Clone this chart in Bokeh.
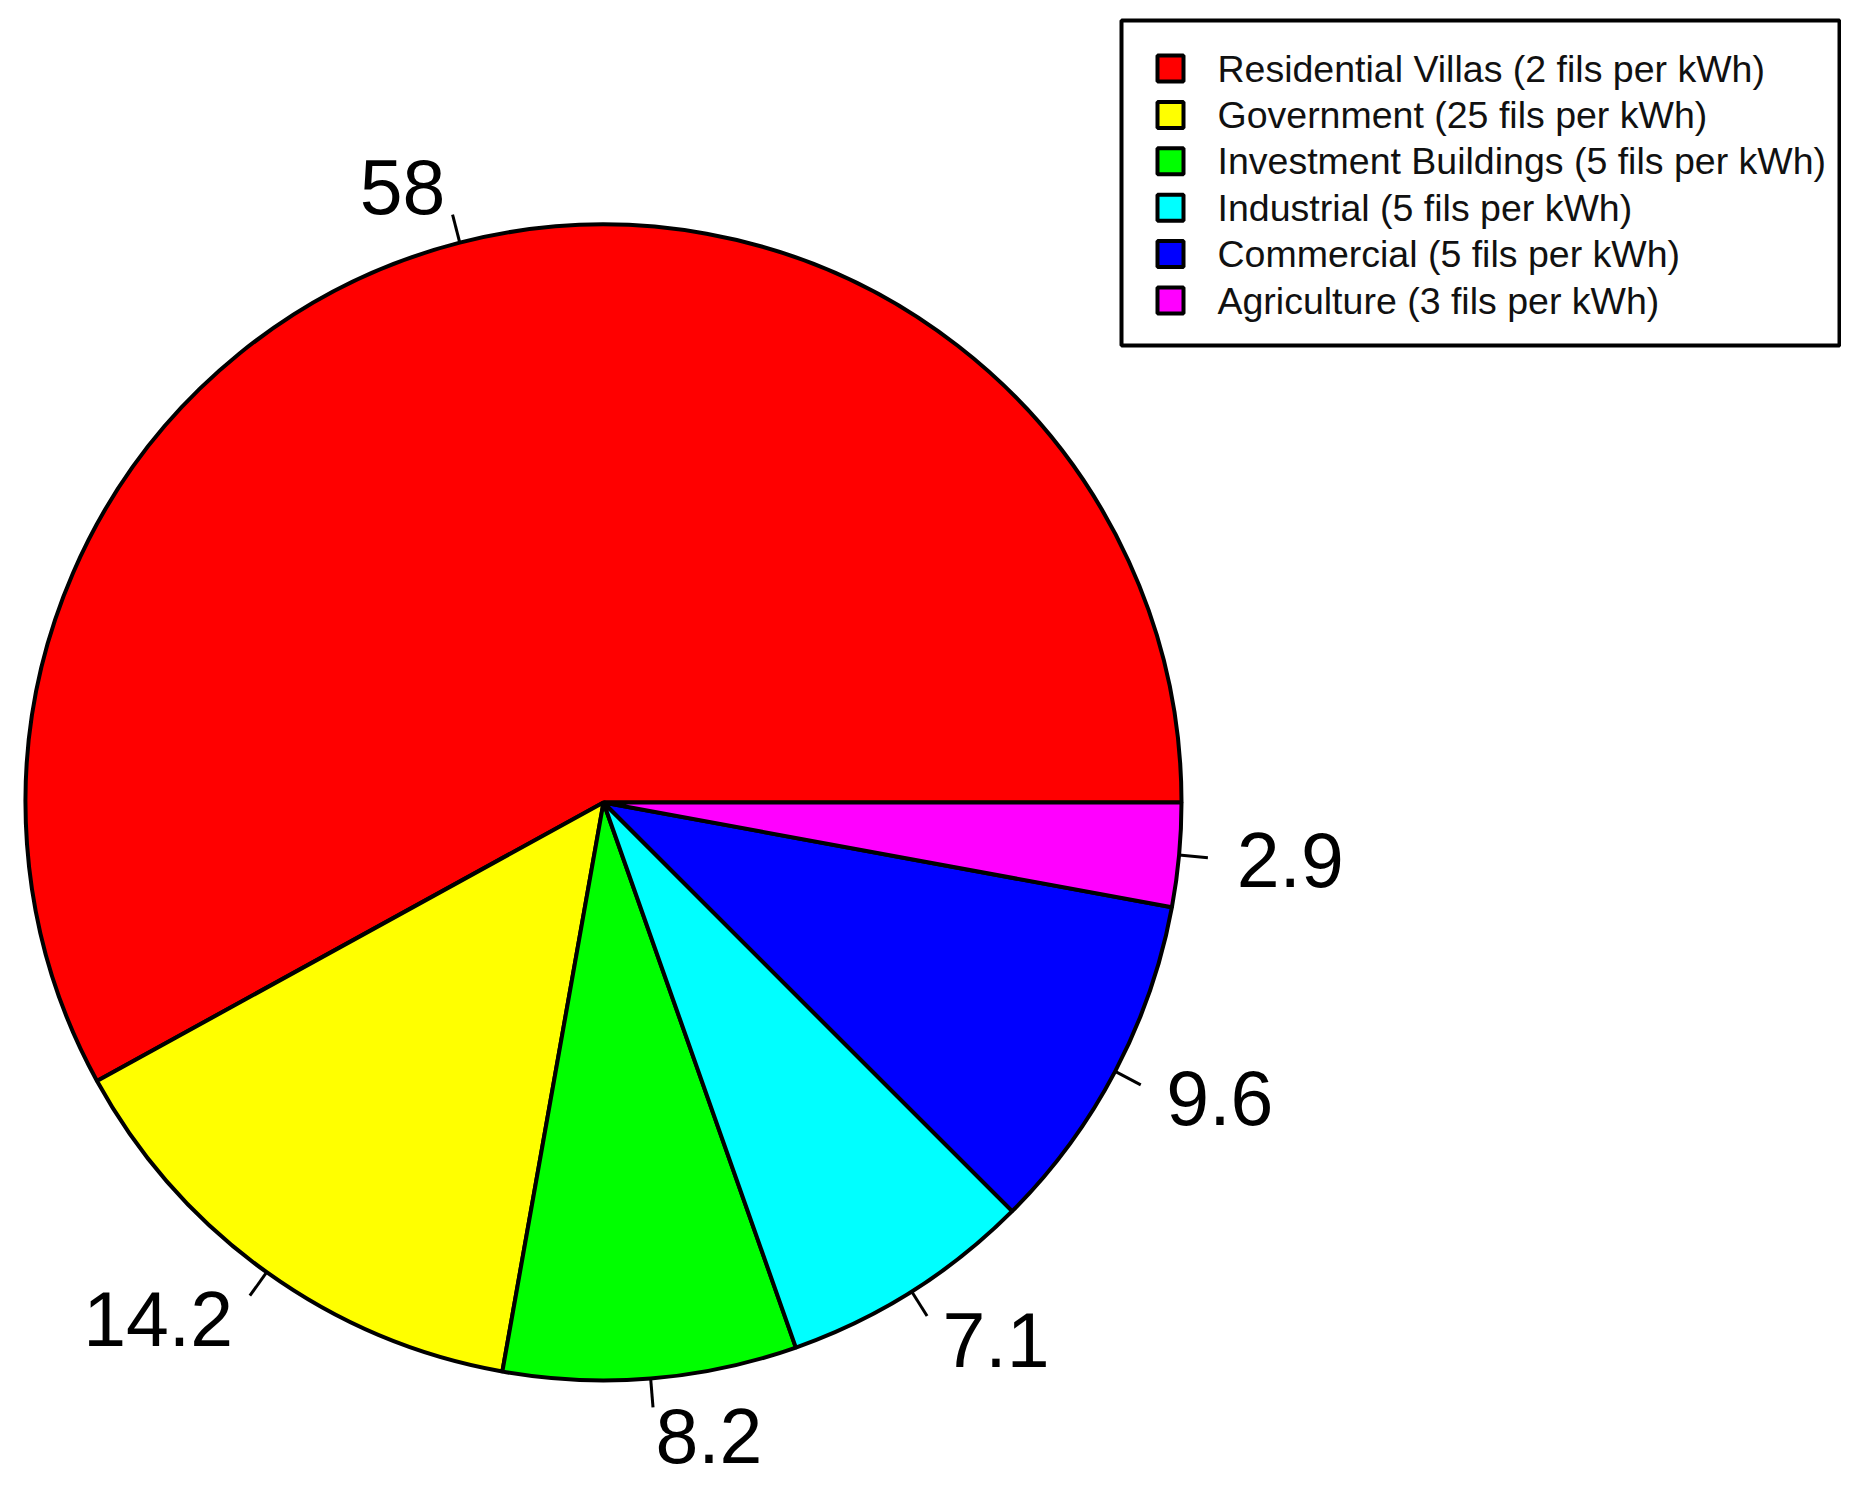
import math
from bokeh.plotting import figure
from bokeh.models import Range1d, ColumnDataSource
from bokeh.embed import file_html
from bokeh.resources import INLINE
from bokeh.core.properties import value

# ---- data ----
categories = [
    "Residential Villas (2 fils per kWh)",
    "Government (25 fils per kWh)",
    "Investment Buildings (5 fils per kWh)",
    "Industrial  (5 fils per kWh)",
    "Commercial (5 fils per kWh)",
    "Agriculture (3 fils per kWh)",
]
shares = [58, 14.2, 8.2, 7.1, 9.6, 2.9]
value_labels = ["58", "14.2", "8.2", "7.1", "9.6", "2.9"]
colors = ["#FF0000", "#FFFF00", "#00FF00", "#00FFFF", "#0000FF", "#FF00FF"]

# ---- layout (1 data unit = 1 screen pixel) ----
W, H = 1841, 1485


def px(xp):
    return xp


def py(yp):
    return H - yp


cx, cy = px(603), py(802)
R = 578
FONT = value("Liberation Sans")

p = figure(width=W, height=H, x_range=Range1d(0, W), y_range=Range1d(0, H),
           output_backend="svg", toolbar_location=None, min_border=0,
           x_axis_location=None, y_axis_location=None)
p.grid.visible = False
p.outline_line_color = None
p.background_fill_color = "white"
p.border_fill_color = "white"

total = sum(shares)
starts, ends, mids = [], [], []
acc = 0.0
for s in shares:
    a0 = 2 * math.pi * acc / total
    acc += s
    a1 = 2 * math.pi * acc / total
    starts.append(a0)
    ends.append(a1)
    mids.append((a0 + a1) / 2)

wsrc = ColumnDataSource(dict(start=starts, end=ends, color=colors))
p.wedge(x=cx, y=cy, radius=R, start_angle="start", end_angle="end",
        direction="anticlock", fill_color="color", line_color="black",
        line_width=4, source=wsrc)

# tick lines and value labels
x0 = [cx + R * math.cos(m) for m in mids]
y0 = [cy + R * math.sin(m) for m in mids]
x1 = [cx + 1.05 * R * math.cos(m) for m in mids]
y1 = [cy + 1.05 * R * math.sin(m) for m in mids]
p.segment(x0=x0, y0=y0, x1=x1, y1=y1, line_color="black", line_width=3)

lsrc = ColumnDataSource(dict(
    x=[cx + 1.1 * R * math.cos(m) for m in mids],
    y=[cy + 1.1 * R * math.sin(m) for m in mids],
    text=value_labels,
    align=["left" if math.cos(m) >= 0 else "right" for m in mids],
))
p.text(x="x", y="y", text="text", text_align="align", text_baseline="middle",
       text_font=FONT, text_font_size="77px", text_color="black", source=lsrc)

# legend (drawn manually)
p.quad(left=px(1121), right=px(1839), top=py(20), bottom=py(345),
       fill_color="white", line_color="black", line_width=4)
row0, step = 68, 46.4
rows_y = [py(row0 + i * step) for i in range(len(categories))]
p.rect(x=[px(1170)] * len(categories), y=rows_y, width=26, height=26,
       fill_color=colors, line_color="black", line_width=4)
p.text(x=[px(1217)] * len(categories), y=rows_y, text=categories,
       text_align="left", text_baseline="middle", text_font=FONT,
       text_font_size="37.5px", text_color="#111111")

open("out.html", "w").write(file_html(p, INLINE))
